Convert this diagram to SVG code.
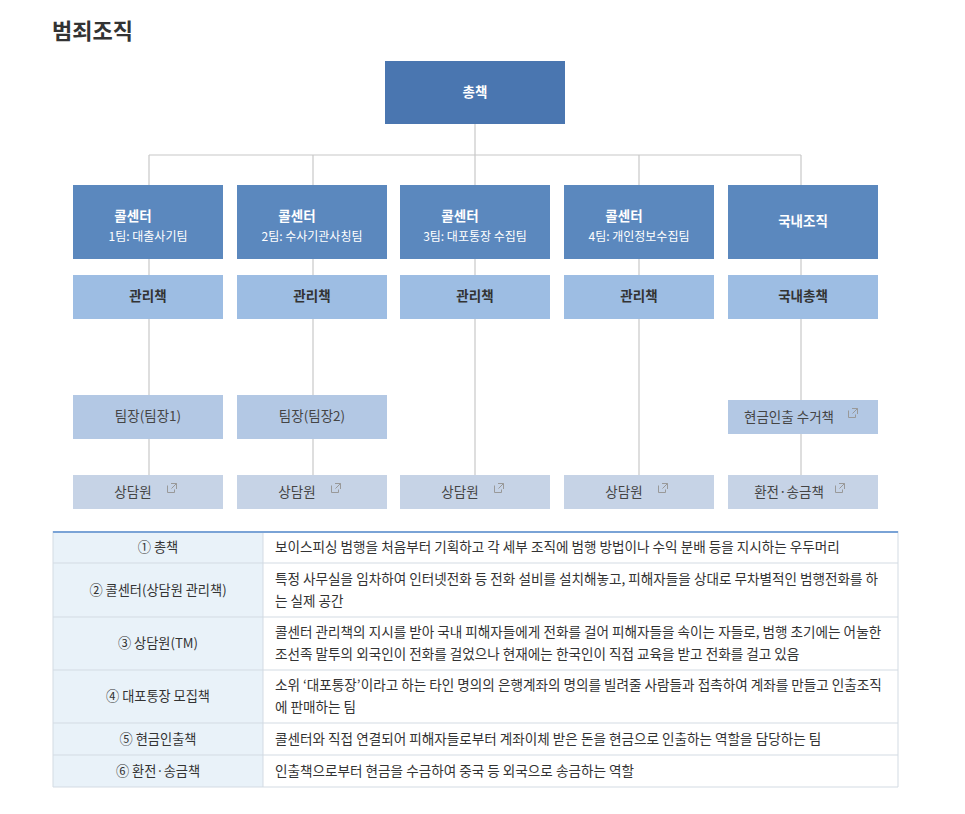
<svg xmlns="http://www.w3.org/2000/svg" width="965" height="814" viewBox="0 0 965 814">
<style>
text{font-family:"Noto Sans CJK KR","Noto Sans",sans-serif;}
.w{fill:#fff;font-size:13.5px;text-anchor:middle;font-weight:bold}
.ws{fill:#fff;font-size:12px;text-anchor:middle}
.d{fill:#333;font-size:13.5px;text-anchor:middle;font-weight:bold}
.n{fill:#444;font-size:13.5px;text-anchor:middle}
.t{fill:#333;font-size:13.6px}
.tc{fill:#333;font-size:13.2px;text-anchor:middle}
.b1{fill:#5b88be}.b2{fill:#9dbde3}.b3{fill:#b3c8e4}.b4{fill:#c6d3e6}
.ln{stroke:#c8c8c8;stroke-width:1.2;fill:none}
.ic{stroke:#999;stroke-width:1;fill:none}
</style>
<defs><g id="ext"><path class="ic" d="M0.5 2.5h-0v7h7v-3M4 0.5h5.5v5.5M9.5 0.5l-5 5"/></g></defs>
<text x="52" y="39" font-size="22" font-weight="bold" fill="#333" style="font-family:'Noto Sans CJK KR',sans-serif">범죄조직</text>
<g id="connectors">
<path class="ln" d="M475 124V155M149 155H801M149 155V475M313 155V475M475 155V475M639 155V475M801 155V475"/>
</g>
<g id="top"><rect x="385" y="61" width="180" height="63" fill="#4a76b0"/><text class="w" x="475" y="97">총책</text></g>
<g id="c1"><rect class="b1" x="73" y="185" width="150" height="74"/><text class="w" x="133" y="221">콜센터</text><text class="ws" x="148" y="241">1팀: 대출사기팀</text></g>
<g id="c2"><rect class="b1" x="237" y="185" width="150" height="74"/><text class="w" x="297" y="221">콜센터</text><text class="ws" x="312" y="241">2팀: 수사기관사칭팀</text></g>
<g id="c3"><rect class="b1" x="400" y="185" width="150" height="74"/><text class="w" x="460" y="221">콜센터</text><text class="ws" x="475" y="241">3팀: 대포통장 수집팀</text></g>
<g id="c4"><rect class="b1" x="564" y="185" width="150" height="74"/><text class="w" x="624" y="221">콜센터</text><text class="ws" x="639" y="241">4팀: 개인정보수집팀</text></g>
<g id="c5"><rect class="b1" x="728" y="185" width="150" height="74"/><text class="w" x="803" y="226">국내조직</text></g>
<g id="m1"><rect class="b2" x="73" y="275" width="150" height="44"/><text class="d" x="148" y="301">관리책</text></g>
<g id="m2"><rect class="b2" x="237" y="275" width="150" height="44"/><text class="d" x="312" y="301">관리책</text></g>
<g id="m3"><rect class="b2" x="400" y="275" width="150" height="44"/><text class="d" x="475" y="301">관리책</text></g>
<g id="m4"><rect class="b2" x="564" y="275" width="150" height="44"/><text class="d" x="639" y="301">관리책</text></g>
<g id="m5"><rect class="b2" x="728" y="275" width="150" height="44"/><text class="d" x="803" y="301">국내총책</text></g>
<g id="l1"><rect class="b3" x="73" y="395" width="150" height="44"/><text class="n" x="148" y="421">팀장(팀장1)</text></g>
<g id="l2"><rect class="b3" x="237" y="395" width="150" height="44"/><text class="n" x="312" y="421">팀장(팀장2)</text></g>
<g id="l5"><rect class="b3" x="728" y="400" width="150" height="34"/><text class="n" x="789" y="422">현금인출 수거책</text><use href="#ext" x="848" y="408"/></g>
<g id="s1"><rect class="b4" x="73" y="475" width="150" height="34"/><text class="n" x="133" y="497">상담원</text><use href="#ext" x="167" y="483"/></g>
<g id="s2"><rect class="b4" x="237" y="475" width="150" height="34"/><text class="n" x="297" y="497">상담원</text><use href="#ext" x="331" y="483"/></g>
<g id="s3"><rect class="b4" x="400" y="475" width="150" height="34"/><text class="n" x="460" y="497">상담원</text><use href="#ext" x="494" y="483"/></g>
<g id="s4"><rect class="b4" x="564" y="475" width="150" height="34"/><text class="n" x="624" y="497">상담원</text><use href="#ext" x="658" y="483"/></g>
<g id="s5"><rect class="b4" x="728" y="475" width="150" height="34"/><text class="n" x="789" y="497">환전·송금책</text><use href="#ext" x="835" y="483"/></g>
<g id="table">
<rect x="53" y="531" width="210" height="256" fill="#e9f2f9"/>
<rect x="263" y="531" width="635" height="256" fill="#fff"/>
<path d="M53 563H898M53 617H898M53 670H898M53 723H898M53 755H898M53 787H898M53 531V787M263 531V787M898 531V787" stroke="#d3dbe3" fill="none"/>
<path d="M53 532H898" stroke="#7aa3d6" stroke-width="2"/>
<text class="tc" x="158" y="552">① 총책</text>
<text class="tc" x="158" y="595">② 콜센터(상담원 관리책)</text>
<text class="tc" x="158" y="648">③ 상담원(TM)</text>
<text class="tc" x="158" y="701">④ 대포통장 모집책</text>
<text class="tc" x="158" y="744">⑤ 현금인출책</text>
<text class="tc" x="158" y="776">⑥ 환전·송금책</text>
<text class="t" x="275" y="552">보이스피싱 범행을 처음부터 기획하고 각 세부 조직에 범행 방법이나 수익 분배 등을 지시하는 우두머리</text>
<text class="t" x="275" y="584">특정 사무실을 임차하여 인터넷전화 등 전화 설비를 설치해놓고, 피해자들을 상대로 무차별적인 범행전화를 하</text>
<text class="t" x="275" y="606">는 실제 공간</text>
<text class="t" x="275" y="637">콜센터 관리책의 지시를 받아 국내 피해자들에게 전화를 걸어 피해자들을 속이는 자들로, 범행 초기에는 어눌한</text>
<text class="t" x="275" y="659">조선족 말투의 외국인이 전화를 걸었으나 현재에는 한국인이 직접 교육을 받고 전화를 걸고 있음</text>
<text class="t" x="275" y="690">소위 ‘대포통장’이라고 하는 타인 명의의 은행계좌의 명의를 빌려줄 사람들과 접촉하여 계좌를 만들고 인출조직</text>
<text class="t" x="275" y="712">에 판매하는 팀</text>
<text class="t" x="275" y="744">콜센터와 직접 연결되어 피해자들로부터 계좌이체 받은 돈을 현금으로 인출하는 역할을 담당하는 팀</text>
<text class="t" x="275" y="776">인출책으로부터 현금을 수금하여 중국 등 외국으로 송금하는 역할</text>
</g>
</svg>
